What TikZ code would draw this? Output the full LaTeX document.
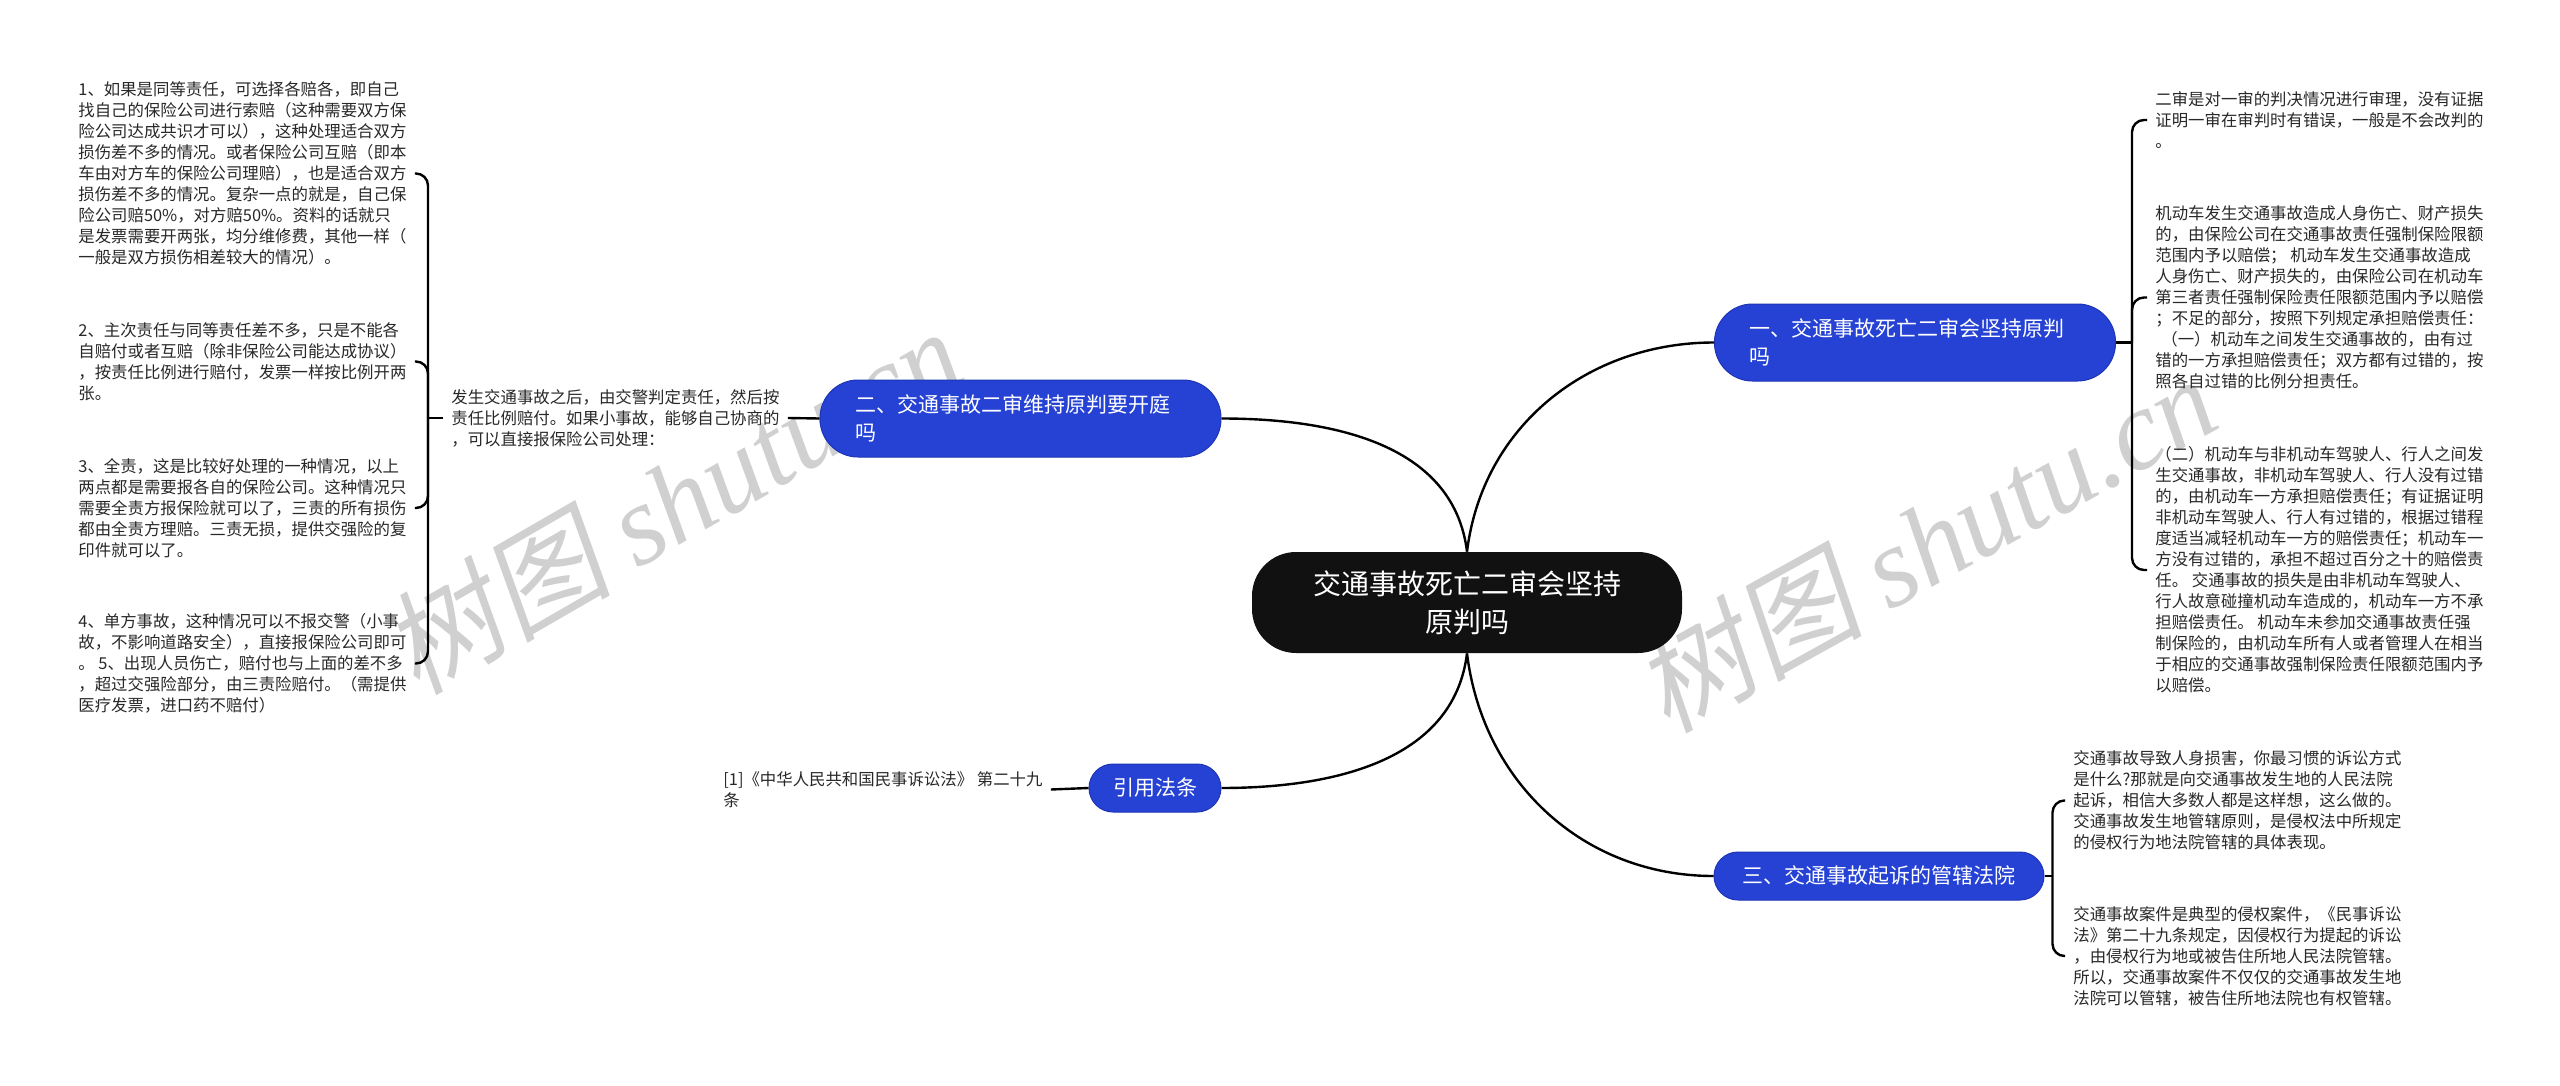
\documentclass[tikz,border=0pt]{standalone}
\usepackage{fontspec}
\setmainfont{Noto Sans CJK SC}
\newfontfamily\wmserif{Liberation Serif}
\newfontfamily\wmcjk[FakeSlant=0.18]{Noto Sans CJK SC}
\usetikzlibrary{calc}
\definecolor{pillblue}{RGB}{37,66,212}
\definecolor{pilledge}{RGB}{30,52,180}
\definecolor{darknode}{RGB}{17,17,17}
\definecolor{leaftext}{RGB}{40,40,40}
\definecolor{wmgray}{RGB}{208,208,208}
\begin{document}
\begin{tikzpicture}[x=0.5pt,y=-0.5pt,
  conn/.style={line width=1.2pt, draw=black},
  leaf/.style={anchor=west, align=left, inner xsep=4pt, inner ysep=0pt, text=leaftext, font=\fontsize{8.2}{10.5}\selectfont},
  pill/.style={fill=pillblue, draw=pilledge, line width=0.5pt, text=white, font=\fontsize{10.5}{14}\selectfont},
  bigpill/.style={pill, rounded corners=19pt, minimum height=38.5pt, inner xsep=17.5pt, text width=165.5pt, align=left},
  smallpill/.style={pill, rounded corners=12pt, minimum height=24pt, align=center},
  centernode/.style={fill=darknode, text=white, rounded corners=22pt, minimum width=215pt, minimum height=50.5pt, align=center, font=\fontsize{14}{19}\selectfont},
  wm/.style={text=wmgray, inner sep=0pt, font=\fontsize{57}{57}\selectfont}
]
\useasboundingbox (0,0) rectangle (2560,1086);
\clip (0,0) rectangle (2560,1086);
\fill[white] (0,0) rectangle (2560,1086);

% watermarks
\node[wm, rotate=30] (wm1) at (672,500) {{\wmcjk 树图} {\wmserif\itshape shutu.cn}};
\node[wm, rotate=29] (wm2) at (1925,542) {{\wmcjk 树图} {\wmserif\itshape shutu.cn}};

% center and main branches
\node[centernode] (c) at (1467,602.5) {交通事故死亡二审会坚持\\原判吗};
\node[bigpill] (b1) at (1915,342.5) {一、交通事故死亡二审会坚持原判\\吗};
\node[bigpill] (b2) at (1020.5,418.5) {二、交通事故二审维持原判要开庭\\吗};
\node[smallpill, minimum width=165pt] (b3) at (1879,876) {三、交通事故起诉的管辖法院};
\node[smallpill, minimum width=66pt] (b4) at (1155,788) {引用法条};

\draw[conn] (c.north) to[out=83,in=180] (b1.west);
\draw[conn] (c.north) to[out=97,in=0] (b2.east);
\draw[conn] (c.south) to[out=-97,in=0] (b4.east);
\draw[conn] (c.south) to[out=-83,in=180] (b3.west);

% branch 2 children
\node[leaf] (lf) at (443,418) {发生交通事故之后，由交警判定责任，然后按\\责任比例赔付。如果小事故，能够自己协商的\\，可以直接报保险公司处理：};
\node[leaf] (l1) at (70,173.5) {1、如果是同等责任，可选择各赔各，即自己\\找自己的保险公司进行索赔（这种需要双方保\\险公司达成共识才可以），这种处理适合双方\\损伤差不多的情况。或者保险公司互赔（即本\\车由对方车的保险公司理赔），也是适合双方\\损伤差不多的情况。复杂一点的就是，自己保\\险公司赔50\%，对方赔50\%。资料的话就只\\是发票需要开两张，均分维修费，其他一样（\\一般是双方损伤相差较大的情况）。};
\node[leaf] (l2) at (70,361.5) {2、主次责任与同等责任差不多，只是不能各\\自赔付或者互赔（除非保险公司能达成协议）\\，按责任比例进行赔付，发票一样按比例开两\\张。};
\node[leaf] (l3) at (70,508) {3、全责，这是比较好处理的一种情况，以上\\两点都是需要报各自的保险公司。这种情况只\\需要全责方报保险就可以了，三责的所有损伤\\都由全责方理赔。三责无损，提供交强险的复\\印件就可以了。};
\node[leaf] (l4) at (70,663.5) {4、单方事故，这种情况可以不报交警（小事\\故，不影响道路安全），直接报保险公司即可\\。 5、出现人员伤亡，赔付也与上面的差不多\\，超过交强险部分，由三责险赔付。（需提供\\医疗发票，进口药不赔付）};

\draw[conn] (b2.west) -- (lf.east);
\coordinate (lj) at ($(lf.west)+(-15,0)$);
\draw[conn] (lf.west) -- (lj);
\draw[conn, rounded corners=6pt] (lj) |- (l1.east);
\draw[conn, rounded corners=6pt] (lj) |- (l2.east);
\draw[conn, rounded corners=6pt] (lj) |- (l3.east);
\draw[conn, rounded corners=6pt] (lj) |- (l4.east);

% branch 4 child
\node[leaf] (ref) at (715,789.5) {[1]《中华人民共和国民事诉讼法》 第二十九\\条};
\draw[conn] (b4.west) -- (ref.east);

% branch 1 children
\node[leaf] (r1) at (2147,120) {二审是对一审的判决情况进行审理，没有证据\\证明一审在审判时有错误，一般是不会改判的\\。};
\node[leaf] (r2) at (2147,297.5) {机动车发生交通事故造成人身伤亡、财产损失\\的，由保险公司在交通事故责任强制保险限额\\范围内予以赔偿； 机动车发生交通事故造成\\人身伤亡、财产损失的，由保险公司在机动车\\第三者责任强制保险责任限额范围内予以赔偿\\；不足的部分，按照下列规定承担赔偿责任：\\\hspace*{3pt}（一）机动车之间发生交通事故的，由有过\\错的一方承担赔偿责任；双方都有过错的，按\\照各自过错的比例分担责任。};
\node[leaf] (r3) at (2147,570) {（二）机动车与非机动车驾驶人、行人之间发\\生交通事故，非机动车驾驶人、行人没有过错\\的，由机动车一方承担赔偿责任；有证据证明\\非机动车驾驶人、行人有过错的，根据过错程\\度适当减轻机动车一方的赔偿责任；机动车一\\方没有过错的，承担不超过百分之十的赔偿责\\任。 交通事故的损失是由非机动车驾驶人、\\行人故意碰撞机动车造成的，机动车一方不承\\担赔偿责任。 机动车未参加交通事故责任强\\制保险的，由机动车所有人或者管理人在相当\\于相应的交通事故强制保险责任限额范围内予\\以赔偿。};
\coordinate (rj) at ($(b1.east)+(16,0)$);
\draw[conn] (b1.east) -- (rj);
\draw[conn, rounded corners=6pt] (rj) |- (r1.west);
\draw[conn, rounded corners=6pt] (rj) |- (r2.west);
\draw[conn, rounded corners=6pt] (rj) |- (r3.west);

% branch 3 children
\node[leaf] (t1) at (2065,800.5) {交通事故导致人身损害，你最习惯的诉讼方式\\是什么?那就是向交通事故发生地的人民法院\\起诉，相信大多数人都是这样想，这么做的。\\交通事故发生地管辖原则，是侵权法中所规定\\的侵权行为地法院管辖的具体表现。};
\node[leaf] (t2) at (2065,956) {交通事故案件是典型的侵权案件，《民事诉讼\\法》第二十九条规定，因侵权行为提起的诉讼\\，由侵权行为地或被告住所地人民法院管辖。\\所以，交通事故案件不仅仅的交通事故发生地\\法院可以管辖，被告住所地法院也有权管辖。};
\coordinate (tj) at ($(b3.east)+(8,0)$);
\draw[conn] (b3.east) -- (tj);
\draw[conn, rounded corners=6pt] (tj) |- (t1.west);
\draw[conn, rounded corners=6pt] (tj) |- (t2.west);
\end{tikzpicture}
\end{document}
